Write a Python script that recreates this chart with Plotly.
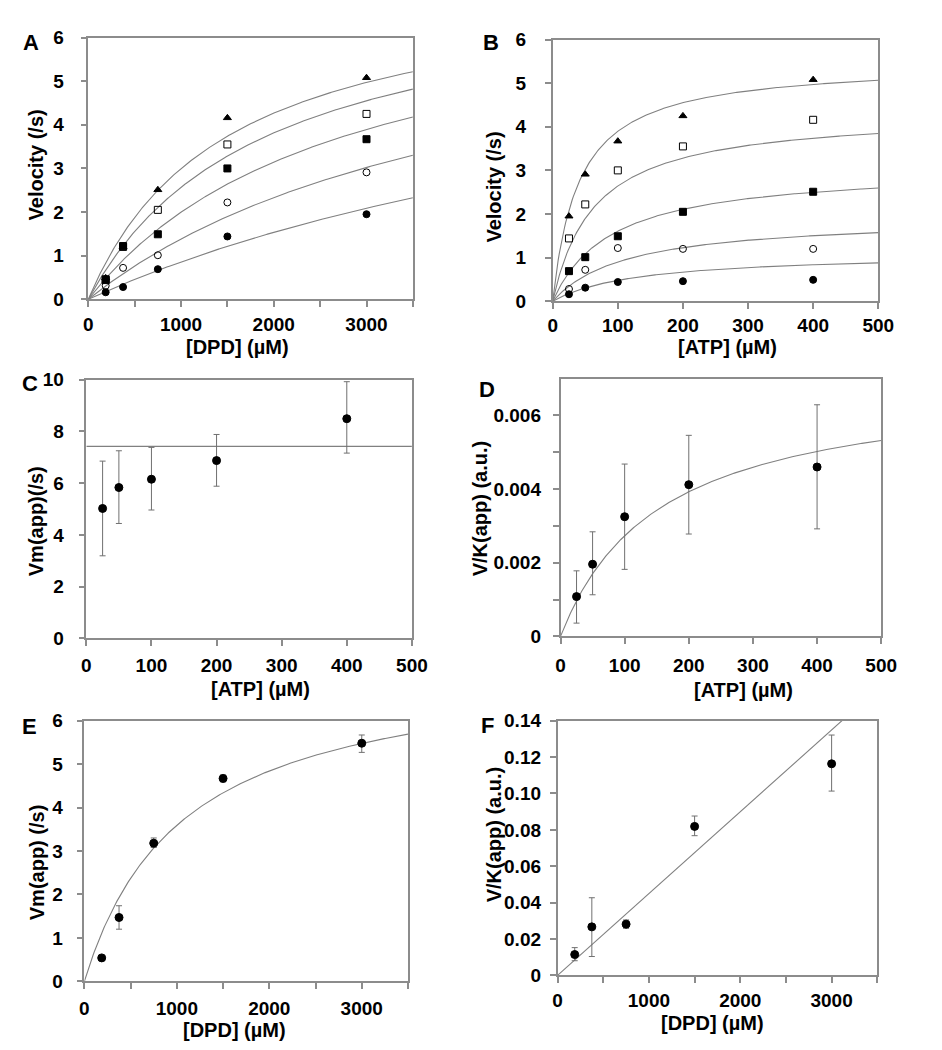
import numpy as np
import plotly.graph_objects as go

W, H = 942, 1050
FONT = "Liberation Sans, Arial, sans-serif"
FRAME = "#8c8c8c"
CURVE = "#808080"
ERR = "#707070"

# ---- data ----
dpd = [187.5, 375, 750, 1500, 3000]          # uM
atp = [25, 50, 100, 200, 400]                 # uM
# initial velocity (/s); rows = DPD level, columns = ATP level
velocity = [
    [0.16, 0.31, 0.44, 0.46, 0.49],
    [0.28, 0.72, 1.22, 1.20, 1.20],
    [0.69, 1.01, 1.49, 2.05, 2.51],
    [1.44, 2.22, 3.00, 3.55, 4.16],
    [1.95, 2.91, 3.67, 4.25, 5.08],
]
symbols = ["circle", "circle-open", "square", "square-open", "triangle-up"]  # low -> high level

# panel C: apparent Vm vs ATP
vm_app_atp = [5.02, 5.83, 6.15, 6.87, 8.49]
vm_app_atp_hi = [6.85, 7.25, 7.38, 7.88, 9.92]
vm_app_atp_lo = [3.19, 4.44, 4.96, 5.88, 7.16]
# panel D: apparent V/K vs ATP
vk_app_atp = [0.00108, 0.00196, 0.00325, 0.00412, 0.00460]
vk_app_atp_hi = [0.00178, 0.00284, 0.00468, 0.00546, 0.00629]
vk_app_atp_lo = [0.00036, 0.00113, 0.00182, 0.00278, 0.00292]
# panel E: apparent Vm vs DPD
vm_app_dpd = [0.54, 1.47, 3.18, 4.67, 5.48]
vm_app_dpd_hi = [0.58, 1.74, 3.30, 4.75, 5.67]
vm_app_dpd_lo = [0.50, 1.20, 3.08, 4.59, 5.27]
# panel F: apparent V/K vs DPD
vk_app_dpd = [0.0115, 0.0267, 0.0282, 0.0819, 0.1163]
vk_app_dpd_hi = [0.0153, 0.0427, 0.0305, 0.0876, 0.1321]
vk_app_dpd_lo = [0.0081, 0.0104, 0.0259, 0.0768, 0.1013]

# global fit parameters
VM = 7.42          # /s
VK_MAX = 0.00697   # V/K at saturating ATP
K_ATP = 155.0      # uM


def rate(d, a):
    return VM * VK_MAX * a * d / (VM * (K_ATP + a) + VK_MAX * a * d)


# panel boxes in page pixels: left, right, top, bottom
boxes = {
    1: (77, 409, 20, 287),
    2: (552, 885, 22, 289),
    3: (75, 408, 369, 633),
    4: (560, 888, 368, 631),
    5: (73, 404, 717, 983),
    6: (557, 884, 717, 977),
}

fig = go.Figure()


def ax(n):
    return ("x" if n == 1 else "x%d" % n), ("y" if n == 1 else "y%d" % n)


def curve(n, x, y):
    xa, ya = ax(n)
    fig.add_trace(go.Scatter(x=x, y=y, mode="lines", xaxis=xa, yaxis=ya,
                             line=dict(color=CURVE, width=1.1), hoverinfo="skip"))


def points(n, x, y, sym="circle", hi=None, lo=None, size=7):
    xa, ya = ax(n)
    err = None
    if hi is not None:
        err = dict(type="data", symmetric=False,
                   array=[h - v for h, v in zip(hi, y)],
                   arrayminus=[v - l for l, v in zip(lo, y)],
                   color=ERR, thickness=1, width=3)
    fig.add_trace(go.Scatter(x=x, y=y, mode="markers", xaxis=xa, yaxis=ya, error_y=err,
                             marker=dict(symbol=sym, size=size, color="black",
                                         line=dict(color="black", width=1))))


xs_dpd = np.linspace(0, 3500, 300)
xs_atp = np.linspace(0, 500, 300)

# A: velocity vs DPD at each ATP
for j, a in enumerate(atp):
    curve(1, xs_dpd, rate(xs_dpd, a))
for j, a in enumerate(atp):
    points(1, dpd, [velocity[i][j] for i in range(len(dpd))], symbols[j])

# B: velocity vs ATP at each DPD
for i, d in enumerate(dpd):
    curve(2, xs_atp, rate(d, xs_atp))
for i, d in enumerate(dpd):
    points(2, atp, velocity[i], symbols[i])

# C
curve(3, [0, 500], [VM, VM])
points(3, atp, vm_app_atp, hi=vm_app_atp_hi, lo=vm_app_atp_lo, size=8)

# D
curve(4, xs_atp, VK_MAX * xs_atp / (K_ATP + xs_atp))
points(4, atp, vk_app_atp, hi=vk_app_atp_hi, lo=vk_app_atp_lo, size=8)

# E
curve(5, xs_dpd, VM * xs_dpd / (VM / VK_MAX + xs_dpd))
points(5, dpd, vm_app_dpd, hi=vm_app_dpd_hi, lo=vm_app_dpd_lo, size=8)

# F
curve(6, xs_dpd, VK_MAX / K_ATP * xs_dpd)
points(6, dpd, vk_app_dpd, hi=vk_app_dpd_hi, lo=vk_app_dpd_lo, size=8)

dpd_ticks = list(range(0, 3501, 500))
dpd_text = [str(v) if v % 1000 == 0 else "" for v in dpd_ticks]
atp_ticks = list(range(0, 501, 100))
atp_text = [str(v) for v in atp_ticks]

axis_specs = {
    1: dict(xr=[0, 3500], xt=dpd_ticks, xl=dpd_text, yr=[0, 6], yt=list(range(7)),
            yl=[str(v) for v in range(7)], xs=1, ys=13),
    2: dict(xr=[0, 500], xt=atp_ticks, xl=atp_text, yr=[0, 6], yt=list(range(7)),
            yl=[str(v) for v in range(7)], xs=0, ys=15),
    3: dict(xr=[0, 500], xt=atp_ticks, xl=atp_text, yr=[0, 10], yt=[0, 2, 4, 6, 8, 10],
            yl=["0", "2", "4", "6", "8", "10"], xs=3, ys=11),
    4: dict(xr=[0, 500], xt=atp_ticks, xl=atp_text, yr=[0, 0.007],
            yt=[0, 0.001, 0.002, 0.003, 0.004, 0.005, 0.006],
            yl=["0", "", "0.002", "", "0.004", "", "0.006"], xs=5, ys=8),
    5: dict(xr=[0, 3500], xt=dpd_ticks, xl=dpd_text, yr=[0, 6], yt=list(range(7)),
            yl=[str(v) for v in range(7)], xs=3, ys=10),
    6: dict(xr=[0, 3500], xt=dpd_ticks, xl=dpd_text, yr=[0, 0.14],
            yt=[0, 0.02, 0.04, 0.06, 0.08, 0.10, 0.12, 0.14],
            yl=["0", "0.02", "0.04", "0.06", "0.08", "0.10", "0.12", "0.14"], xs=1, ys=5),
}

layout = {}
for n, (l, r, t, b) in boxes.items():
    s = axis_specs[n]
    common = dict(showline=True, linecolor=FRAME, linewidth=1.5, mirror=True,
                  ticks="outside", ticklen=6, tickwidth=1.5, tickcolor=FRAME,
                  showgrid=False, zeroline=False, tickmode="array",
                  tickfont=dict(family=FONT, size=19, color="black", weight="bold"))
    key = "" if n == 1 else str(n)
    layout["xaxis" + key] = dict(domain=[l / W, r / W], range=s["xr"], tickvals=s["xt"],
                                 ticktext=s["xl"], anchor="y" + key,
                                 ticklabelstandoff=s["xs"], **common)
    layout["yaxis" + key] = dict(domain=[1 - b / H, 1 - t / H], range=s["yr"], tickvals=s["yt"],
                                 ticktext=s["yl"], anchor="x" + key,
                                 ticklabelstandoff=s["ys"], **common)

# labels: text, x px, y px, angle, size
labels = [
    ("A", 18, 25, 0, 22), ("B", 489, 25, 0, 22), ("C", 17, 373, 0, 22),
    ("D", 485, 379, 0, 22), ("E", 17, 723, 0, 22), ("F", 485, 722, 0, 22),
    ("[DPD] (µM)", 230, 336, 0, 20), ("Velocity (/s)", 24, 150, -90, 20),
    ("[ATP] (µM)", 731, 336, 0, 20), ("Velocity (/s)", 492, 173, -90, 20),
    ("[ATP] (µM)", 253, 685, 0, 20), ("Vm(app)(/s)", 23, 513, -90, 20),
    ("[ATP] (µM)", 747, 686, 0, 20), ("V/K(app) (a.u.)", 478, 500, -90, 20),
    ("[DPD] (µM)", 227, 1033, 0, 20), ("Vm(app) (/s)", 24, 861, -90, 20),
    ("[DPD] (µM)", 715, 1025, 0, 20), ("V/K(app) (a.u.)", 492, 833, -90, 20),
]
annotations = [dict(text=txt, x=x / W, y=1 - y / H, xref="paper", yref="paper",
                    xanchor="center", yanchor="middle", textangle=ang, showarrow=False,
                    font=dict(family=FONT, size=sz, color="black", weight="bold"))
               for txt, x, y, ang, sz in labels]

fig.update_layout(width=W, height=H, margin=dict(l=0, r=0, t=0, b=0),
                  paper_bgcolor="white", plot_bgcolor="white", showlegend=False,
                  annotations=annotations, **layout)

fig.write_html("out.html")
